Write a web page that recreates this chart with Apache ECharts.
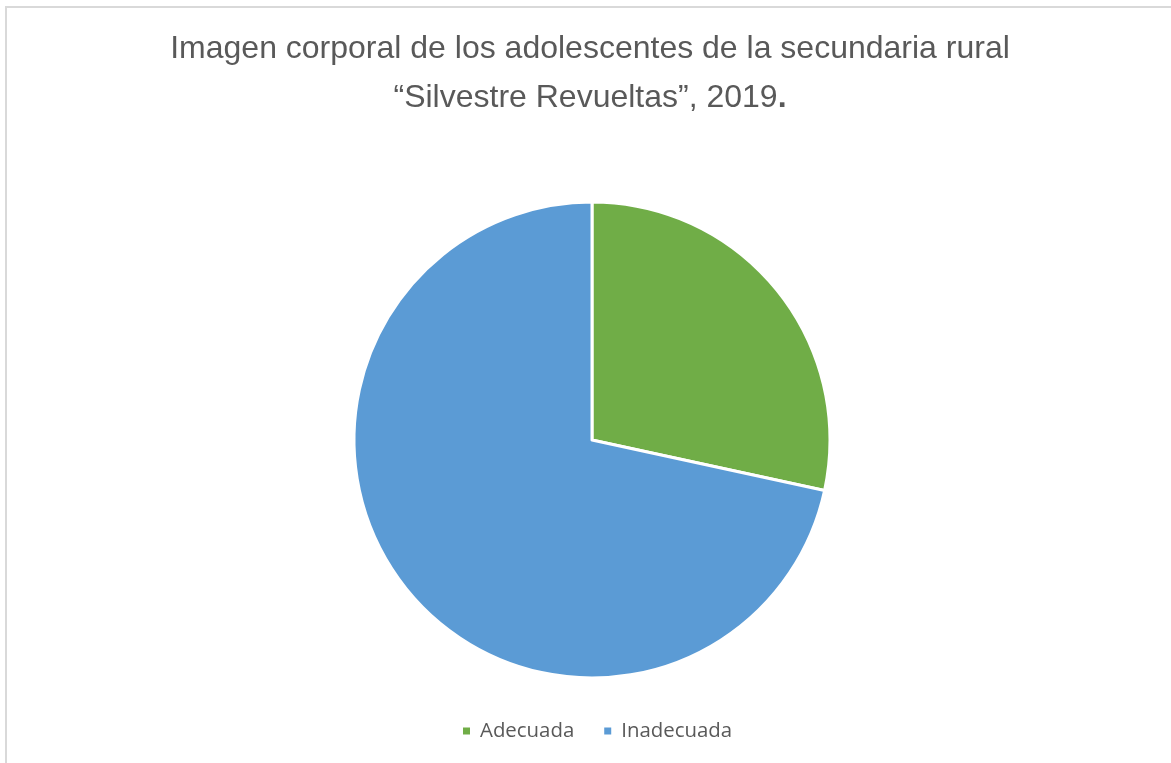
<!DOCTYPE html>
<html>
<head>
<meta charset="utf-8">
<script src="https://cdn.jsdelivr.net/npm/echarts@6/dist/echarts.min.js"></script>
<style>
  html, body { margin: 0; padding: 0; background: #ffffff; }
  #chart { width: 1171px; height: 763px; }
</style>
</head>
<body>
<div id="chart"></div>
<script>
// Body image of rural secondary-school adolescents (percent of students)
const categories = ['Adecuada', 'Inadecuada'];
const percentages = [28.4, 71.6];
const sliceColors = ['#70AD47', '#5B9BD5'];

const chart = echarts.init(document.getElementById('chart'), null, { renderer: 'canvas' });

chart.setOption({
  backgroundColor: '#ffffff',
  animation: false,
  graphic: [{
    type: 'rect',
    silent: true,
    shape: { x: 6, y: 7, width: 1300, height: 900 },
    style: { fill: 'none', stroke: '#d9d9d9', lineWidth: 2 }
  }],
  title: {
    text: 'Imagen corporal de los adolescentes de la secundaria rural\n“Silvestre Revueltas”, 2019{b|.}',
    left: 585,
    top: 20,
    textAlign: 'center',
    textStyle: {
      fontFamily: 'Liberation Sans, Arial, sans-serif',
      fontSize: 32,
      fontWeight: 'normal',
      color: '#595959',
      lineHeight: 49,
      align: 'center',
      rich: {
        b: { fontFamily: 'Liberation Sans, Arial, sans-serif', fontSize: 32, fontWeight: 'bold', color: '#595959', lineHeight: 49 }
      }
    }
  },
  legend: {
    data: categories,
    bottom: 17,
    left: 456,
    icon: 'rect',
    itemWidth: 9,
    itemHeight: 9,
    itemGap: 28,
    textStyle: {
      fontFamily: 'Open Sans, sans-serif',
      fontSize: 20.4,
      color: '#595959',
      padding: [0, 0, 0, 4]
    }
  },
  series: [{
    type: 'pie',
    center: [592, 440],
    radius: 238,
    startAngle: 90,
    clockwise: true,
    label: { show: false },
    labelLine: { show: false },
    emphasis: { disabled: true },
    itemStyle: { borderColor: '#ffffff', borderWidth: 3 },
    data: categories.map((name, i) => ({
      name: name,
      value: percentages[i],
      itemStyle: { color: sliceColors[i] }
    }))
  }]
});
</script>
</body>
</html>
